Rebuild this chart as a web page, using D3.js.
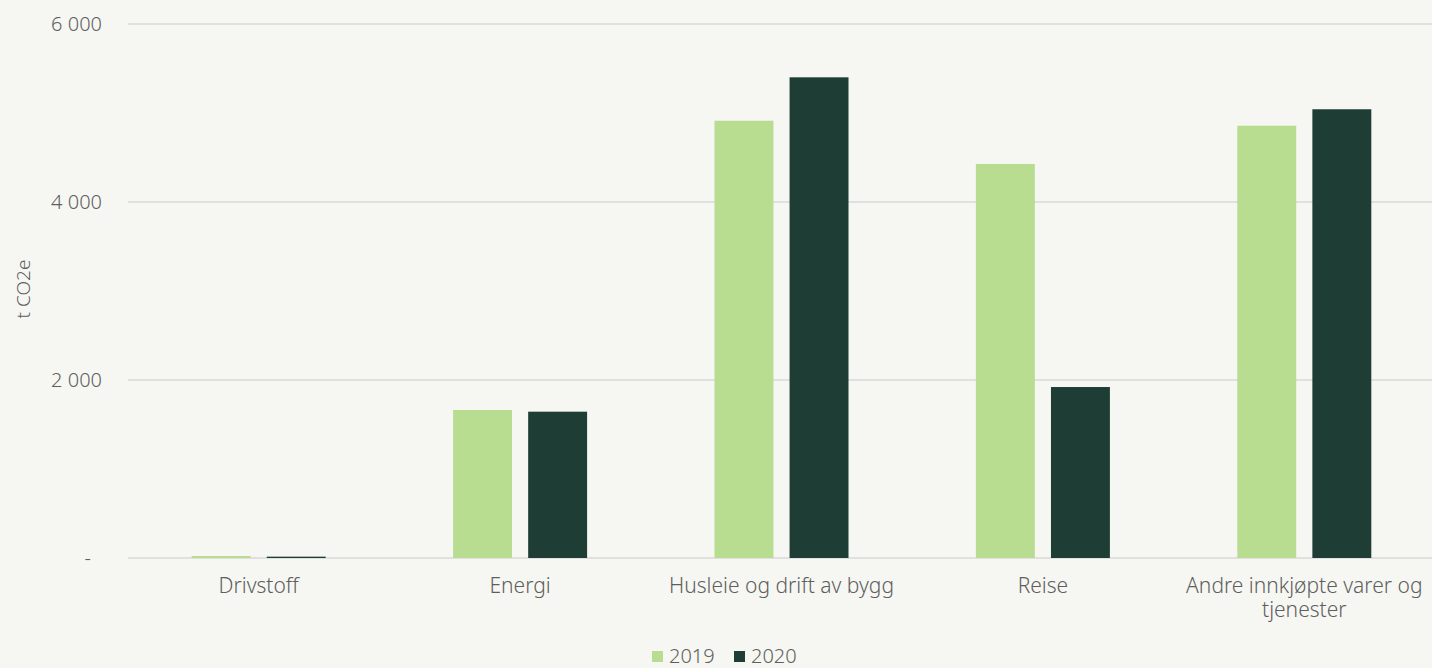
<!DOCTYPE html>
<html>
<head>
<meta charset="utf-8">
<script src="https://cdn.jsdelivr.net/npm/d3@7"></script>
<style>
  body { margin: 0; background: #f6f7f2; }
  svg { display: block; font-family: "Noto Sans", Lato, sans-serif; font-weight: 300; }
</style>
</head>
<body>
<div id="chart"></div>
<script>
// data
var categories = ["Drivstoff", "Energi", "Husleie og drift av bygg", "Reise", "Andre innkjøpte varer og tjenester"];
var years = ["2019", "2020"];
var values2019 = [22, 1663, 4913, 4427, 4857];
var values2020 = [15, 1644, 5401, 1921, 5042];
var yTicks = [0, 2000, 4000, 6000];
var colors = ["#b8dc90", "#1e3d34"];

var W = 1432, H = 668;
var margin = {left: 128, right: -3, top: 24, bottom: 110};
var textColor = "#5e5e5e";

var svg = d3.select("#chart").append("svg").attr("width", W).attr("height", H);
svg.append("rect").attr("width", W).attr("height", H).attr("fill", "#f6f7f2");

var x = d3.scaleBand().domain(categories).range([margin.left, W - margin.right]).paddingInner(0).paddingOuter(0);
var x1 = d3.scaleBand().domain(years).range([0, 134]).paddingInner(0.215);
var y = d3.scaleLinear().domain([0, 6000]).range([H - margin.bottom, margin.top]);

var fmt = function(d) { return d === 0 ? "-" : d3.format(",")(d).replace(/,/g, " "); };

// gridlines
svg.append("g").selectAll("line").data(yTicks).enter().append("line")
	.attr("x1", margin.left).attr("x2", W)
	.attr("y1", function(d) { return y(d); })
	.attr("y2", function(d) { return y(d); })
	.attr("stroke", "#d9d9d9").attr("stroke-width", 1.5);

// y labels
svg.append("g").selectAll("text").data(yTicks).enter().append("text")
	.attr("x", function(d) { return d === 0 ? 91 : 102; })
	.attr("y", function(d) { return y(d); })
	.attr("dy", "0.35em")
	.attr("text-anchor", "end")
	.attr("fill", textColor).attr("font-size", 20)
	.text(fmt);

svg.append("text")
	.attr("transform", "translate(30," + 289 + ") rotate(-90)")
	.attr("text-anchor", "middle")
	.attr("fill", textColor).attr("font-size", 19)
	.text("t CO2e");

var rows = categories.map(function(c, i) { return {cat: c, vals: [values2019[i], values2020[i]]}; });

var groups = svg.append("g").selectAll("g").data(rows).enter().append("g")
	.attr("transform", function(d) { return "translate(" + (x(d.cat) + (x.bandwidth() - 134) / 2) + ",0)"; });

groups.selectAll("rect")
	.data(function(d) { return d.vals.map(function(v, j) { return {year: years[j], v: v, j: j}; }); })
	.enter().append("rect")
	.attr("x", function(d) { return x1(d.year); })
	.attr("width", x1.bandwidth())
	.attr("y", function(d) { return y(d.v); })
	.attr("height", function(d) { return y(0) - y(d.v); })
	.attr("fill", function(d) { return colors[d.j]; });

// category labels
var catLabels = svg.append("g").selectAll("text").data(categories).enter().append("text")
	.attr("x", function(d) { return x(d) + x.bandwidth() / 2; })
	.attr("y", 593)
	.attr("text-anchor", "middle")
	.attr("fill", textColor).attr("font-size", 21);

catLabels.each(function(d) {
	var t = d3.select(this);
	var lines = d === "Andre innkjøpte varer og tjenester" ? ["Andre innkjøpte varer og", "tjenester"] : [d];
	lines.forEach(function(l, k) {
		t.append("tspan").attr("x", x(d) + x.bandwidth() / 2).attr("dy", k === 0 ? 0 : 24).text(l);
	});
});

// legend
var legend = svg.append("g").attr("transform", "translate(652,651)");
var li = legend.selectAll("g").data(years).enter().append("g")
	.attr("transform", function(d, i) { return "translate(" + (i * 82) + ",0)"; });
li.append("rect").attr("width", 11).attr("height", 11).attr("y", 0)
	.attr("fill", function(d, i) { return colors[i]; });
li.append("text").attr("x", 17).attr("y", 12)
	.attr("fill", textColor).attr("font-size", 20)
	.text(function(d) { return d; });
</script>
</body>
</html>
